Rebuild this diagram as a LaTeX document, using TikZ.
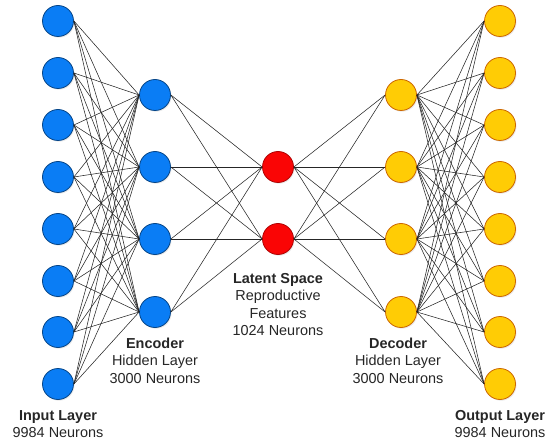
\documentclass[tikz,border=0pt]{standalone}
\usepackage{fontspec}
\setmainfont{Liberation Sans}
\usepackage{xcolor}
\usetikzlibrary{shadows}

\definecolor{inblue}{HTML}{0A7DF5}
\definecolor{latred}{HTML}{FA0505}
\definecolor{outyel}{HTML}{FFCC05}

\begin{document}
\begin{tikzpicture}[
    x=1bp, y=-1bp,
    neuron/.style={circle, minimum size=31bp, inner sep=0pt, line width=0.8bp,
                   drop shadow={shadow xshift=1bp, shadow yshift=-1.2bp, opacity=0.18}},
    inp/.style ={neuron, fill=inblue, draw=inblue!55!black},
    lat/.style ={neuron, fill=latred, draw=latred!70!black},
    outp/.style={neuron, fill=outyel, draw=orange!80!black},
    link/.style={line width=0.55bp, black!85},
    lbl/.style ={align=center, text=black!85, font=\fontsize{14.5}{17.6}\selectfont}
]
\useasboundingbox (0,0) rectangle (547,440);

% Input layer
\foreach \i/\y in {1/21,2/73,3/125,4/177,5/229,6/281,7/332,8/384}
    \node[inp] (in\i) at (58,\y) {};
% Encoder
\foreach \j/\y in {1/95,2/167,3/239,4/312}
    \node[inp] (enc\j) at (155,\y) {};
% Latent space
\node[lat] (lat1) at (278,167) {};
\node[lat] (lat2) at (278,239) {};
% Decoder
\foreach \j/\y in {1/95,2/167,3/239,4/312}
    \node[outp] (dec\j) at (401,\y) {};
% Output layer
\foreach \i/\y in {1/21,2/73,3/125,4/177,5/229,6/281,7/332,8/384}
    \node[outp] (out\i) at (500,\y) {};

% Connections
\foreach \i in {1,...,8}
    \foreach \j in {1,...,4} {
        \draw[link] (in\i.east) -- (enc\j.west);
        \draw[link] (dec\j.east) -- (out\i.west);
    }
\foreach \j in {1,...,4}
    \foreach \k in {1,2} {
        \draw[link] (enc\j.east) -- (lat\k.west);
        \draw[link] (lat\k.east) -- (dec\j.west);
    }

% Labels
\node[lbl] (inlbl)  at (58,424)    {\textbf{Input Layer}\\9984 Neurons};
\node[lbl] (enclbl) at (155,360.5) {\textbf{Encoder}\\Hidden Layer\\3000 Neurons};
\node[lbl] (latlbl) at (278,304.5) {\textbf{Latent Space}\\Reproductive\\Features\\1024 Neurons};
\node[lbl] (declbl) at (398,360.5) {\textbf{Decoder}\\Hidden Layer\\3000 Neurons};
\node[lbl] (outlbl) at (500,424)   {\textbf{Output Layer}\\9984 Neurons};
\end{tikzpicture}
\end{document}
